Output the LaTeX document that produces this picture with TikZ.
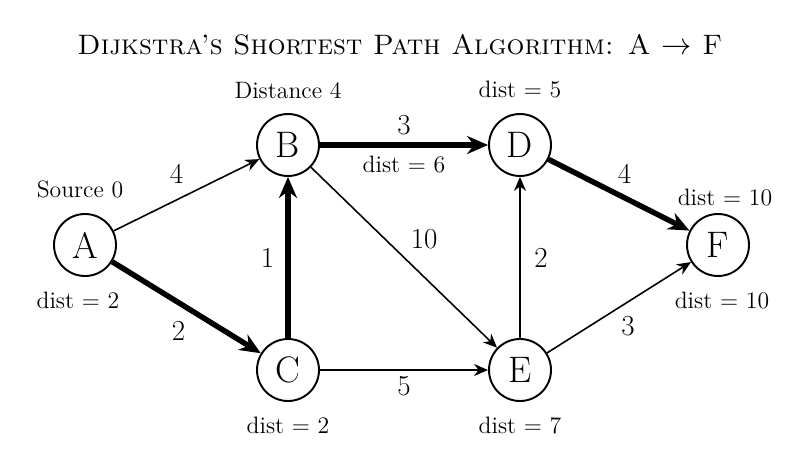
\documentclass[tikz,border=0pt]{standalone}
\usepackage{amsmath,amssymb}
\usepackage{tikz}
\usetikzlibrary{arrows.meta,positioning}

\begin{document}
\begin{tikzpicture}[
  vertex/.style={draw, circle, line width=1.1pt, minimum size=1.24cm, inner sep=0pt, font=\fontsize{21}{24}\selectfont},
  info/.style={font=\fontsize{13.5}{16}\selectfont, inner sep=1pt},
  weight/.style={font=\fontsize{16.5}{19}\selectfont, inner sep=2pt},
  edge/.style={-{Stealth[length=2.8mm, width=2.4mm]}, line width=0.9pt},
  path/.style={-{Stealth[length=4.2mm, width=3.6mm]}, line width=3.1pt}
]
  \useasboundingbox (0,0) rectangle (16,9);

  \node[font=\fontsize{16}{19}\selectfont] (title) at (8,8.1) {\textsc{Dijkstra's Shortest Path Algorithm: A $\rightarrow$ F}};

  \node[vertex] (a) at (1.7,4.1) {A};
  \node[vertex] (b) at (5.76,6.1) {B};
  \node[vertex] (c) at (5.76,1.6) {C};
  \node[vertex] (d) at (10.4,6.1) {D};
  \node[vertex] (e) at (10.4,1.6) {E};
  \node[vertex] (f) at (14.36,4.1) {F};

  \node[info, above=0.25cm of a, xshift=-0.1cm] (srcA) {Source 0};
  \node[info, below=0.25cm of a, xshift=-0.14cm] (distA) {dist = 2};
  \node[info, above=0.25cm of b] (distB) {Distance 4};
  \node[info, below=0.25cm of c] (distC) {dist = 2};
  \node[info, above=0.25cm of d] (distD) {dist = 5};
  \node[info, below=0.25cm of e] (distE) {dist = 7};
  \node[info, above=0.1cm of f, xshift=0.14cm] (distF) {dist = 10};
  \node[info, below=0.25cm of f, xshift=0.08cm] (distF2) {dist = 10};

  % other edges
  \draw[edge] (a) -- (b) node[weight, midway, above left=0.15cm and -0.02cm] {4};
  \draw[edge] (b) -- (e) node[weight, midway, above right=0.08cm and 0.05cm] {10};
  \draw[edge] (c) -- (e) node[weight, midway, below=0.05cm] {5};
  \draw[edge] (e) -- (d) node[weight, midway, right=0.2cm] {2};
  \draw[edge] (e) -- (f) node[weight, midway, below left=0.1cm and -0.4cm] {3};

  % shortest path
  \draw[path] (a) -- (c) node[weight, midway, below left=0.15cm and -0.1cm] {2};
  \draw[path] (c) -- (b) node[weight, midway, left=0.15cm] {1};
  \draw[path] (b) -- (d) node[weight, midway, above=0.08cm] {3}
                         node[info, midway, below=0.14cm] (distBD) {dist = 6};
  \draw[path] (d) -- (f) node[weight, midway, above right=0.1cm and -0.15cm] {4};
\end{tikzpicture}
\end{document}
